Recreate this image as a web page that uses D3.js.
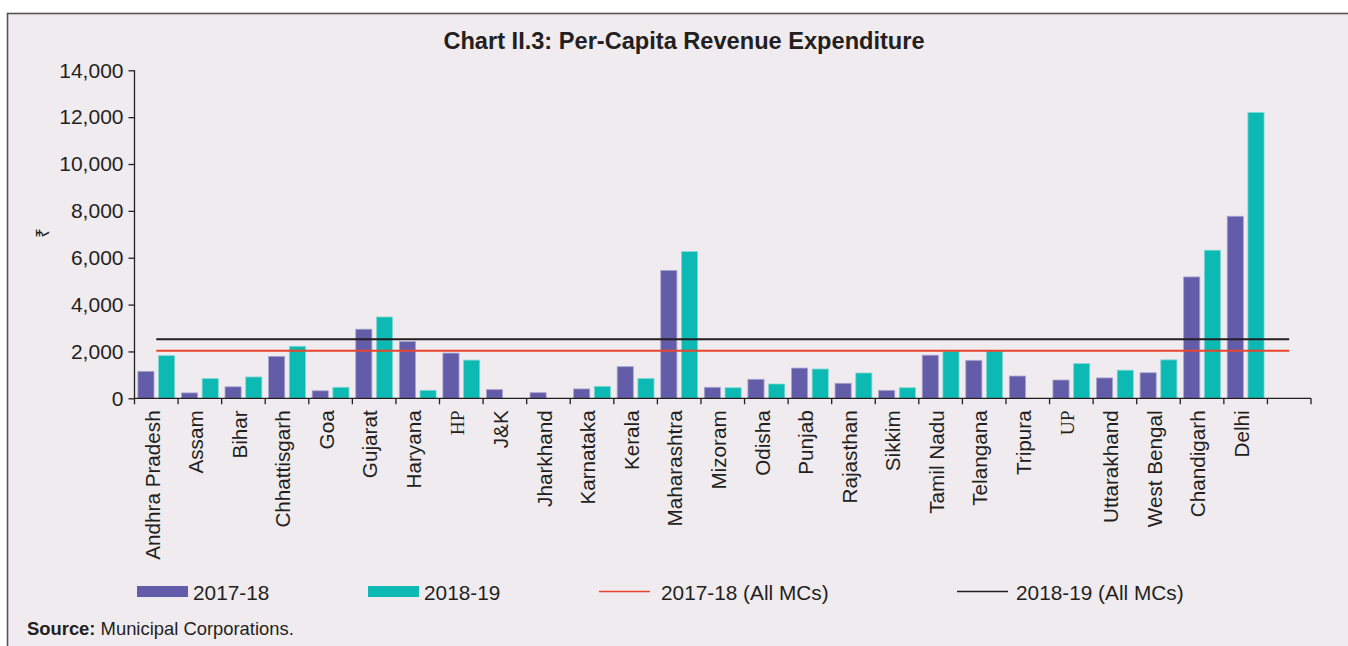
<!DOCTYPE html>
<html>
<head>
<meta charset="utf-8">
<script src="https://cdn.jsdelivr.net/npm/d3@7"></script>
<style>
  html, body { margin: 0; padding: 0; background: #ffffff; }
  svg { display: block; }
  text { font-family: "Liberation Sans", Arial, sans-serif; fill: #231f20; }
</style>
</head>
<body>
<svg id="chart" width="1348" height="646"></svg>
<script>
const categories = ["Andhra Pradesh","Assam","Bihar","Chhattisgarh","Goa","Gujarat","Haryana","HP","J&K","Jharkhand","Karnataka","Kerala","Maharashtra","Mizoram","Odisha","Punjab","Rajasthan","Sikkim","Tamil Nadu","Telangana","Tripura","UP","Uttarakhand","West Bengal","Chandigarh","Delhi"];
const values2017 = [1150,230,490,1790,320,2950,2420,1930,370,240,400,1350,5460,470,810,1290,640,340,1840,1620,950,780,870,1090,5180,7770];
const values2018 = [1820,840,910,2220,470,3470,340,1630,null,null,510,850,6260,450,610,1250,1080,450,2010,2020,null,1480,1200,1640,6320,12200];
const avg2017 = 2030;
const avg2018 = 2520;
const yTicks = [0,2000,4000,6000,8000,10000,12000,14000];
const seriesNames = ["2017-18","2018-19","2017-18 (All MCs)","2018-19 (All MCs)"];
const titleText = "Chart II.3: Per-Capita Revenue Expenditure";
const sourceLabel = "Source:";
const sourceText = " Municipal Corporations.";
const unitLabel = "₹";

(function () {
const colPurple = "#635ca9", colTeal = "#0cb9b3", colRed = "#e8452c", colBlack = "#231f20";

const svg = d3.select("#chart");
svg.append("rect").attr("x", 7.5).attr("y", 13.5).attr("width", 1360).attr("height", 700)
  .attr("fill", "#f0ebef").attr("stroke", "#555").attr("stroke-width", 1.6);

const pLeft = 134.5, pRight = 1311, pTop = 70.3, pBottom = 398.3;
const domain = categories.concat([""]);
const x = d3.scaleBand().domain(domain.map((d,i)=>i)).range([pLeft, pRight]).paddingInner(0).paddingOuter(0);
const y = d3.scaleLinear().domain([0, 14000]).range([pBottom, pTop]);
const bw = x.bandwidth();
const barW = bw * 0.37;
const gap = bw * 0.105;

svg.append("text").attr("x", 684).attr("y", 49).attr("text-anchor", "middle")
  .style("font-weight", "bold").style("font-size", "23.6px").text(titleText);

const yAxis = d3.axisLeft(y).tickValues(yTicks).tickSize(6).tickPadding(5)
  .tickFormat(d3.format(","));
const gy = svg.append("g").attr("transform", `translate(${pLeft},0)`).call(yAxis);
gy.selectAll("path, line").attr("stroke", colBlack).attr("stroke-width", 1.3);
gy.select(".domain").attr("d", `M0,${pBottom}V${pTop}`);
gy.selectAll("text").style("font-size", "21px").style("font-family", "Liberation Sans, Arial, sans-serif").attr("fill", colBlack);

svg.append("text").attr("transform", "translate(49,233) rotate(-90)").attr("text-anchor", "middle")
  .style("font-family", "'Noto Sans', 'DejaVu Sans', sans-serif").style("font-size", "17px").text(unitLabel);

const g = svg.append("g");
categories.forEach((c, i) => {
  const cx = x(i) + bw / 2;
  const v1 = values2017[i], v2 = values2018[i];
  if (v1 != null) {
    g.append("rect").attr("x", cx - gap/2 - barW).attr("y", y(v1)).attr("width", barW).attr("height", y(0) - y(v1))
      .attr("fill", colPurple).attr("stroke", "#a9a4d0").attr("stroke-width", 0.8);
  }
  if (v2 != null) {
    g.append("rect").attr("x", cx + gap/2).attr("y", y(v2)).attr("width", barW).attr("height", y(0) - y(v2))
      .attr("fill", colTeal).attr("stroke", "#7fd8d3").attr("stroke-width", 0.8);
  }
});

const x0 = x(0) + bw/2, x1 = x(domain.length - 1) + bw/2;
svg.append("line").attr("x1", x0).attr("x2", x1).attr("y1", y(avg2018)).attr("y2", y(avg2018))
  .attr("stroke", colBlack).attr("stroke-width", 1.8);
svg.append("line").attr("x1", x0).attr("x2", x1).attr("y1", y(avg2017)).attr("y2", y(avg2017))
  .attr("stroke", colRed).attr("stroke-width", 1.8);

const xAxis = d3.axisBottom(x).tickValues([]).tickSize(0);
const gx = svg.append("g").attr("transform", `translate(0,${pBottom})`).call(xAxis);
gx.select(".domain").attr("stroke", colBlack).attr("stroke-width", 1.3).attr("d", `M${pLeft},0H${pRight}`);
d3.range(domain.length + 1).forEach(i => {
  const px = pLeft + i * bw;
  gx.append("line").attr("x1", px).attr("x2", px).attr("y1", 0).attr("y2", 6).attr("stroke", colBlack).attr("stroke-width", 1.3);
});
categories.forEach((c, i) => {
  const cx = x(i) + bw / 2;
  const serif = (c === "HP" || c === "UP");
  svg.append("text").attr("transform", `translate(${cx - 4},${pBottom + 12}) rotate(-90)`)
    .attr("text-anchor", "end").attr("dy", "0.35em")
    .style("font-size", serif ? "19.5px" : "20.7px")
    .style("font-family", serif ? "'Liberation Serif', 'Times New Roman', serif" : "'Liberation Sans', Arial, sans-serif")
    .text(c);
});

const lg = svg.append("g");
const legendItems = [
  {type: "rect", color: colPurple, x: 137, tx: 193},
  {type: "rect", color: colTeal, x: 368, tx: 424},
  {type: "line", color: colRed, x: 599, tx: 661},
  {type: "line", color: colBlack, x: 957, tx: 1016}
];
legendItems.forEach((it, i) => {
  if (it.type === "rect") {
    lg.append("rect").attr("x", it.x).attr("y", 586).attr("width", 51).attr("height", 11).attr("fill", it.color);
  } else {
    lg.append("line").attr("x1", it.x).attr("x2", it.x + 51).attr("y1", 591.5).attr("y2", 591.5).attr("stroke", it.color).attr("stroke-width", 1.6);
  }
  lg.append("text").attr("x", it.tx).attr("y", 599.5).style("font-size", "20.8px").text(seriesNames[i]);
});

const st = svg.append("text").attr("x", 27).attr("y", 635).style("font-size", "18.4px");
st.append("tspan").style("font-weight", "bold").text(sourceLabel);
st.append("tspan").text(sourceText);
})();
</script>
</body>
</html>
